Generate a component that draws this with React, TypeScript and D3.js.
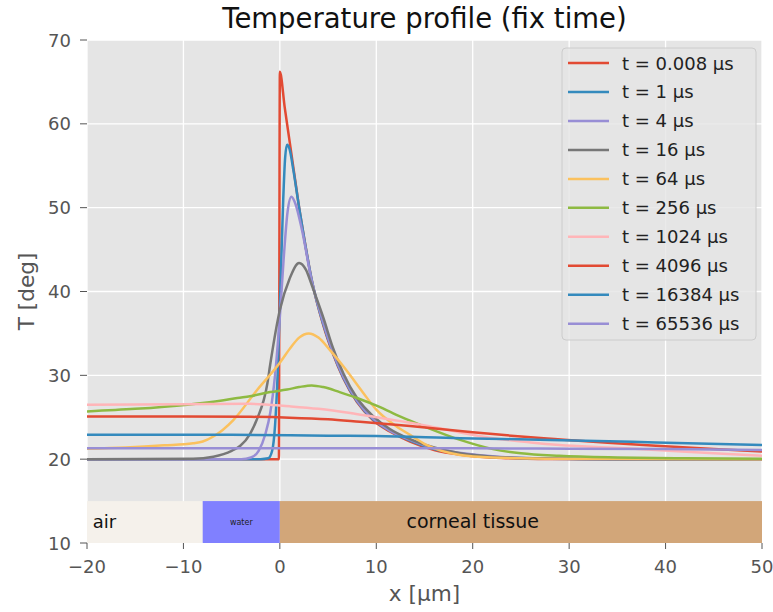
import React from "react";
import * as d3 from "d3";

const W = 773;
const H = 612;
const plot = { left: 87, right: 762, top: 40, bottom: 543 };

const xTicks = [-20, -10, 0, 10, 20, 30, 40, 50];
const xTickLabels = ["−20", "−10", "0", "10", "20", "30", "40", "50"];
const yTicks = [10, 20, 30, 40, 50, 60, 70];
const yTickLabels = ["10", "20", "30", "40", "50", "60", "70"];

const seriesLabels = [
  "t = 0.008 µs", "t = 1 µs", "t = 4 µs", "t = 16 µs", "t = 64 µs",
  "t = 256 µs", "t = 1024 µs", "t = 4096 µs", "t = 16384 µs", "t = 65536 µs",
];
const seriesColors = [
  "#E24A33", "#348ABD", "#988ED5", "#777777", "#FBC15E",
  "#8EBA42", "#FFB5B8", "#E24A33", "#348ABD", "#988ED5",
];

// [x (µm), T (deg)]
const t0008 = [[-20, 20], [-0.1, 20], [0, 66.2], [0.5, 62], [1, 58], [1.5, 54], [2, 50], [2.5, 46.5], [3.3, 41.4], [4.5, 36], [5.5, 32.6], [6.6, 29.6], [8, 26.8], [9.7, 24.6], [11.4, 23.3], [13.5, 22.1], [16, 21.1], [19, 20.5], [23, 20.15], [28, 20.03], [35, 20], [50, 20]];
const t1 = [[-20, 20], [-2, 20], [-1.2, 20.1], [-0.8, 21], [-0.5, 24], [-0.2, 31], [0.1, 42], [0.35, 51], [0.55, 56], [0.75, 57.5], [1, 57], [1.4, 54.5], [2, 50], [2.5, 46.5], [3.3, 41.4], [4.5, 36.1], [5.5, 32.7], [6.6, 29.7], [8, 26.9], [9.7, 24.7], [11.4, 23.4], [13.5, 22.2], [16, 21.2], [19, 20.6], [23, 20.2], [28, 20.05], [35, 20], [50, 20]];
const t4 = [[-20, 20], [-4, 20], [-3, 20.2], [-2.2, 21], [-1.5, 23], [-1, 25.5], [-0.5, 30], [0, 37], [0.4, 44], [0.8, 49.5], [1.2, 51.3], [1.6, 50.5], [2.3, 47.3], [3.3, 41.3], [4.5, 36.3], [5.5, 32.8], [6.6, 29.8], [8, 27], [9.7, 24.8], [11.4, 23.4], [13.5, 22.3], [16, 21.3], [19, 20.7], [23, 20.25], [28, 20.08], [35, 20], [50, 20]];
const t16 = [[-20, 20], [-9, 20.05], [-6.9, 20.3], [-5, 21], [-4.1, 21.6], [-3.1, 23], [-2.4, 24.7], [-1.3, 29], [-1, 31.3], [0, 37.8], [1, 41.5], [2, 43.4], [2.7, 42.6], [3.3, 40.8], [3.8, 39.2], [4.5, 36.9], [5.5, 33.3], [6.6, 30.2], [8, 27.3], [9.7, 25.1], [11.4, 23.6], [13.5, 22.4], [16, 21.4], [18.7, 20.7], [22, 20.3], [27, 20.1], [35, 20], [50, 20]];
const t64 = [[-20, 21.25], [-16, 21.4], [-12, 21.65], [-9, 21.9], [-8, 22.1], [-6.9, 22.7], [-4.8, 24.7], [-2.4, 28.2], [0, 31.5], [1.05, 33.2], [2, 34.5], [3, 35], [4, 34.5], [5.2, 33], [6.9, 30.6], [8.65, 27.9], [10, 25.9], [12.1, 23.9], [13.5, 22.9], [15.2, 21.7], [18.7, 20.5], [22, 20.2], [29, 20.05], [50, 20]];
const t256 = [[-20, 25.7], [-15, 26], [-9.6, 26.5], [-6, 27], [-4.4, 27.3], [-3.1, 27.5], [-1, 28], [0.74, 28.3], [2, 28.6], [3.3, 28.8], [4.5, 28.6], [6.2, 28], [8, 27.3], [10.4, 26.2], [11.7, 25.5], [13.5, 24.6], [15.2, 23.8], [18.7, 22.3], [22.1, 21.2], [25, 20.7], [29, 20.4], [35, 20.2], [42, 20.1], [50, 20.05]];
const t1024 = [[-20, 26.5], [-10, 26.55], [-3.1, 26.6], [1, 26.3], [4, 26], [7.3, 25.5], [10, 25], [13.5, 24.35], [15.2, 24], [18, 23.35], [22.1, 22.5], [26, 22], [29, 21.7], [34, 21.4], [39, 21.1], [45, 20.7], [50, 20.4]];
const t4096 = [[-20, 25.1], [-10, 25.1], [-3, 25.05], [1, 24.95], [5, 24.75], [8.3, 24.45], [13.5, 23.95], [20, 23.2], [25, 22.7], [28.5, 22.4], [34, 21.95], [39, 21.6], [45, 21.2], [50, 20.9]];
const t16384 = [[-20, 22.9], [-5, 22.9], [5, 22.8], [10, 22.75], [18.7, 22.5], [28, 22.3], [39, 22], [50, 21.7]];
const t65536 = [[-20, 21.3], [0, 21.3], [20, 21.3], [30, 21.25], [40, 21.2], [50, 21.1]];

const seriesData = [t0008, t1, t4, t16, t64, t256, t1024, t4096, t16384, t65536];

// material layers shown at the bottom
const layerNames = ["air", "water", "corneal tissue"];
const layerStart = [-20, -8, 0];
const layerEnd = [-8, 0, 50];
const layerColors = ["#F5F1EB", "#8080FF", "#D2A679"];
const layerBottom = 10;
const layerTop = 15;

const font = "DejaVu Sans, sans-serif";

export default function App() {
  const x = d3.scaleLinear().domain([-20, 50]).range([plot.left, plot.right]);
  const y = d3.scaleLinear().domain([10, 70]).range([plot.bottom, plot.top]);

  const line = d3
    .line<number[]>()
    .x((d) => x(d[0]))
    .y((d) => y(d[1]))
    .curve(d3.curveMonotoneX);

  const legendX = 562;
  const legendY = 48;
  const rowH = 28.97;

  return (
    <div style={{ position: "fixed", left: 0, top: 0 }}>
      <svg width={W} height={H} style={{ display: "block", background: "white" }} fontFamily={font}>
        <defs>
          <clipPath id="plotClip">
            <rect x={plot.left} y={plot.top} width={plot.right - plot.left} height={plot.bottom - plot.top} />
          </clipPath>
        </defs>
        <rect x={plot.left} y={plot.top} width={plot.right - plot.left} height={plot.bottom - plot.top} fill="#E5E5E5" />

        {/* grid */}
        {xTicks.map((t) => (
          <line key={"gx" + t} x1={x(t)} x2={x(t)} y1={plot.top} y2={plot.bottom} stroke="white" strokeWidth={1.3} />
        ))}
        {yTicks.map((t) => (
          <line key={"gy" + t} x1={plot.left} x2={plot.right} y1={y(t)} y2={y(t)} stroke="white" strokeWidth={1.3} />
        ))}

        {/* series */}
        <g clipPath="url(#plotClip)">
          {seriesData.map((d, i) => (
            <path key={i} d={line(d) || ""} fill="none" stroke={seriesColors[i]} strokeWidth={2.5} strokeLinejoin="round" />
          ))}
        </g>

        {/* layers */}
        {layerNames.map((n, i) => (
          <rect key={n} x={x(layerStart[i])} y={y(layerTop)} width={x(layerEnd[i]) - x(layerStart[i])} height={y(layerBottom) - y(layerTop)} fill={layerColors[i]} />
        ))}
        <text x={x(-19.4)} y={y(12.5) + 6} fontSize={18} fill="#111">air</text>
        <text x={x(-4)} y={y(12.5) + 3} fontSize={8} fill="#222" textAnchor="middle">water</text>
        <text x={x(20)} y={y(12.5) + 6} fontSize={19} fill="#111" textAnchor="middle">corneal tissue</text>

        {/* axes ticks */}
        {xTicks.map((t, i) => (
          <g key={"tx" + t}>
            <line x1={x(t)} x2={x(t)} y1={plot.bottom} y2={plot.bottom + 6} stroke="#555" strokeWidth={1} />
            <text x={x(t)} y={plot.bottom + 30} fontSize={18} fill="#555" textAnchor="middle">{xTickLabels[i]}</text>
          </g>
        ))}
        {yTicks.map((t, i) => (
          <g key={"ty" + t}>
            <line x1={plot.left - 7} x2={plot.left} y1={y(t)} y2={y(t)} stroke="#555" strokeWidth={1} />
            <text x={plot.left - 16} y={y(t) + 6.5} fontSize={18} fill="#555" textAnchor="end">{yTickLabels[i]}</text>
          </g>
        ))}

        <text x={(plot.left + plot.right) / 2} y={601} fontSize={21.6} fill="#555" textAnchor="middle">x [µm]</text>
        <text transform={`translate(34, ${(plot.top + plot.bottom) / 2}) rotate(-90)`} fontSize={21.6} fill="#555" textAnchor="middle">T [deg]</text>
        <text x={(plot.left + plot.right) / 2} y={28} fontSize={27.5} fill="#111" textAnchor="middle">Temperature profile (fix time)</text>

        {/* legend */}
        <rect x={legendX} y={legendY} width={194} height={292} rx={4} fill="#E5E5E5" fillOpacity={0.8} stroke="#CCCCCC" strokeWidth={1} />
        {seriesLabels.map((s, i) => (
          <g key={s}>
            <line x1={568} x2={609} y1={legendY + 15 + i * rowH} y2={legendY + 15 + i * rowH} stroke={seriesColors[i]} strokeWidth={2.5} />
            <text x={622} y={legendY + 15 + i * rowH + 6.5} fontSize={18} fill="#222">{s}</text>
          </g>
        ))}
      </svg>
    </div>
  );
}
